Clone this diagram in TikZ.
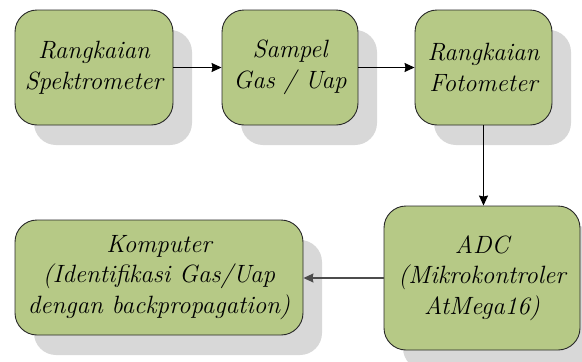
\documentclass[tikz,border=0pt]{standalone}
\usetikzlibrary{shadows,arrows.meta}
\definecolor{boxfill}{RGB}{182,201,134}
\definecolor{boxline}{RGB}{40,40,40}
\definecolor{shadowgray}{RGB}{216,216,216}
\tikzset{
  blk/.style={draw=boxline, line width=0.9pt, fill=boxfill, rounded corners=22pt,
    align=center, inner sep=0pt, text=black,
    font=\fontsize{25}{30.5}\selectfont\itshape,
    drop shadow={shadow xshift=19pt, shadow yshift=-20pt, fill=shadowgray, opacity=1}},
  conn/.style={line width=1.2pt, -{Stealth[length=10pt,width=9pt,inset=1pt]}}
}
\begin{document}
\begin{tikzpicture}[x=1pt,y=-1pt]
\useasboundingbox (0,0) rectangle (582,362);
\node[blk, minimum width=158pt, minimum height=115pt] (spek) at (94,67.5) {Rangkaian\\Spektrometer};
\node[blk, minimum width=136pt, minimum height=115pt] (gas) at (290,67.5) {Sampel\\Gas / Uap};
\node[blk, minimum width=137pt, minimum height=115pt] (foto) at (483.5,67.5) {Rangkaian\\Fotometer};
\node[blk, minimum width=196pt, minimum height=144pt] (adc) at (482,278) {ADC\\(Mikrokontroler\\AtMega16)};
\node[blk, minimum width=288pt, minimum height=115pt] (komp) at (159,277.5) {Komputer\\(Identifikasi Gas/Uap\\dengan backpropagation)};
\draw[conn] (spek.east) -- (gas.west);
\draw[conn] (gas.east) -- (foto.west);
\draw[conn] (foto.south) -- (foto.south |- adc.north);
\draw[conn, draw=black!70, fill=black] (adc.west) -- (adc.west -| komp.east);
\end{tikzpicture}
\end{document}
